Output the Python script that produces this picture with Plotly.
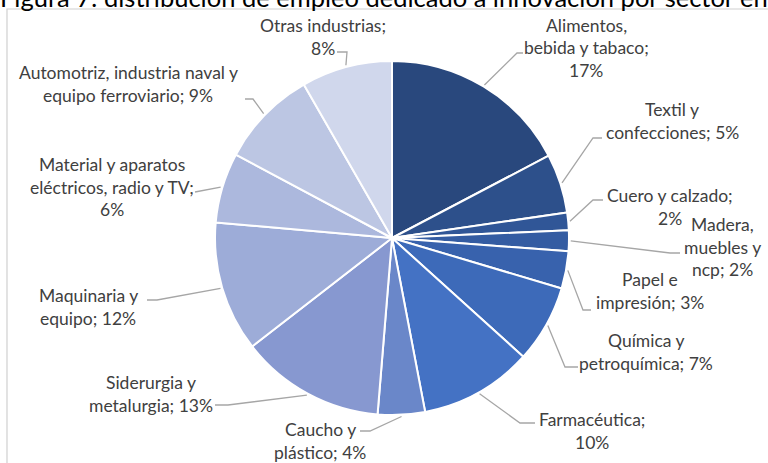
import numpy as np
import plotly.graph_objects as go

# Data (percent of innovation employment by sector)
sectors = [
    "Alimentos, bebida y tabaco", "Textil y confecciones", "Cuero y calzado",
    "Madera, muebles y ncp", "Papel e impresión", "Química y petroquímica",
    "Farmacéutica", "Caucho y plástico", "Siderurgia y metalurgia",
    "Maquinaria y equipo", "Material y aparatos eléctricos, radio y TV",
    "Automotriz, industria naval y equipo ferroviario", "Otras industrias",
]
shares = [17.3, 5.4, 1.6, 1.9, 3.4, 7.1, 10.3, 4.3, 13.2, 11.9, 6.4, 8.9, 8.3]

# How each data label is broken into lines ({p} = percent)
label_lines = [
    ["Alimentos,", "bebida y tabaco;", "{p}"],
    ["Textil y", "confecciones; {p}"],
    ["Cuero y calzado;", "{p}"],
    ["Madera,", "muebles y", "ncp; {p}"],
    ["Papel e", "impresión; {p}"],
    ["Química y", "petroquímica; {p}"],
    ["Farmacéutica;", "{p}"],
    ["Caucho y", "plástico; {p}"],
    ["Siderurgia y", "metalurgia; {p}"],
    ["Maquinaria y", "equipo; {p}"],
    ["Material y aparatos", "eléctricos, radio y TV;", "{p}"],
    ["Automotriz, industria naval y", "equipo ferroviario; {p}"],
    ["Otras industrias;", "{p}"],
]

colors = ['#29487d', '#2d508b', '#305697', '#345ca2', '#3862ad', '#3d6ab9', '#4472c4',
          '#6a87c9', '#8798d0', '#9dacd8', '#acb8dd', '#bcc6e3', '#d0d7ec']

W, H = 768, 463
CX, CY, R = 392, 238, 177

def px(x, y):
    return x / W, 1 - y / H

# label block centres and leader line elbows / ends (pixels)
label_pos = [(586, 48), (672, 121), (670, 207), (722, 247), (650, 291), (646, 352), (592, 431),
             (320, 441), (151, 394), (88, 307), (112, 187), (128, 84), (323, 37)]
leader_elbow = [(517, 53), (593, 138), (593, 200), (670, 253), (583, 310), (565, 367), (520, 423),
                (370, 431), (228, 405), (157, 300), None, (253, 99), (347, 52)]
leader_end = [(523, 53), (602, 138), (603, 200), (680, 253), (591, 310), (578, 367), (535, 423),
              (360, 431), (215, 405), (147, 300), (195, 192), (245, 99), (337, 52)]

fig = go.Figure()
fig.add_trace(go.Pie(
    labels=sectors, values=shares, sort=False, direction='clockwise', rotation=0,
    marker=dict(colors=colors, line=dict(color='white', width=2)),
    textinfo='none', hoverinfo='label+percent', showlegend=False,
    domain=dict(x=[(CX - R) / W, (CX + R) / W], y=[(H - CY - R) / H, (H - CY + R) / H]),
))

total = sum(shares)
cum = np.cumsum([0] + shares)
font = dict(family='Lato', size=17.5, color='#404040')
line_h = 22.5
shapes = []
annotations = []
for i, lines in enumerate(label_lines):
    pct = f"{round(shares[i] / total * 100)}%"
    n = len(lines)
    lx, ly = label_pos[i]
    for k, t in enumerate(lines):
        yy = ly + (k - (n - 1) / 2) * line_h
        x0, y0 = px(lx, yy)
        annotations.append(dict(x=x0, y=y0, xref='paper', yref='paper', text=t.replace('{p}', pct),
                                showarrow=False, xanchor='center', yanchor='middle', font=font))
    mid = (cum[i] + cum[i + 1]) / 2 / total * 2 * np.pi
    sx = CX + R * 1.01 * np.sin(mid)
    sy = CY - R * 1.01 * np.cos(mid)
    pts = [(sx, sy)]
    if leader_elbow[i] is not None:
        pts.append(leader_elbow[i])
    pts.append(leader_end[i])
    path = 'M ' + ' L '.join(f"{px(a, b)[0]:.5f},{px(a, b)[1]:.5f}" for a, b in pts)
    shapes.append(dict(type='path', path=path, xref='paper', yref='paper',
                       line=dict(color='#a6a6a6', width=1.3)))

# chart frame
x0, y0 = px(7, 9)
shapes.append(dict(type='rect', xref='paper', yref='paper', x0=x0, y0=y0, x1=1.05, y1=-0.05,
                   line=dict(color='#d0d0d0', width=1.2)))

# title (cut off at the top in the original)
tx, ty = px(-2, -3)
annotations.append(dict(x=tx, y=ty, xref='paper', yref='paper',
                        text="Figura 7: distribución de empleo dedicado a innovación por sector en el",
                        showarrow=False, xanchor='left', yanchor='middle',
                        font=dict(family='Lato', size=25.5, color='#000000')))

fig.update_layout(
    width=W, height=H, margin=dict(l=0, r=0, t=0, b=0),
    paper_bgcolor='white', plot_bgcolor='white',
    shapes=shapes, annotations=annotations,
)

# page body margin off so the figure sits at the window's corner
fig.write_html("out.html", config={'displayModeBar': False},
               post_script="document.body.style.margin='0';")
